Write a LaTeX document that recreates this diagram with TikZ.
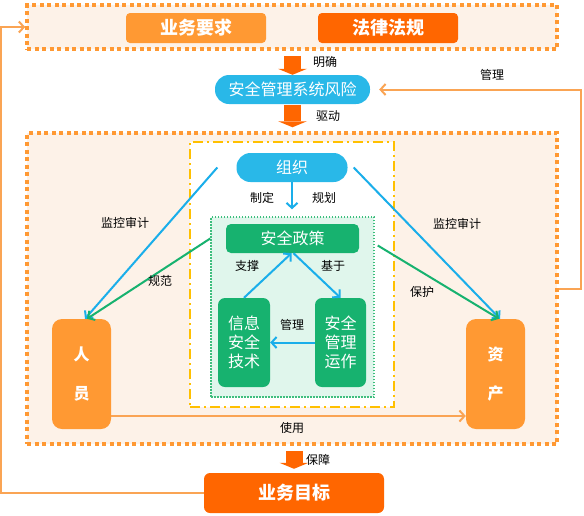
\documentclass[tikz,border=0pt]{standalone}
\usepackage{fontspec}
\setmainfont{Noto Sans CJK SC}
\usetikzlibrary{arrows.meta}

\definecolor{lightorange}{HTML}{FF9933}
\definecolor{darkorange}{HTML}{FF6600}
\definecolor{peach}{HTML}{FDF2E8}
\definecolor{skyblue}{HTML}{29B8E8}
\definecolor{lineblue}{HTML}{1AAEEA}
\definecolor{leafgreen}{HTML}{17B26F}
\definecolor{mintgreen}{HTML}{E0F6EC}
\definecolor{dotgreen}{HTML}{3DBE7D}
\definecolor{goldyellow}{HTML}{FFC000}
\definecolor{feedorange}{HTML}{FAA454}

\begin{document}
\begin{tikzpicture}[x=1pt,y=-1pt,
    group/.style={draw=lightorange,fill=peach,line width=3.5pt,dash pattern=on 4pt off 3.5pt,minimum width=530pt,inner sep=0pt},
    topbox/.style={rounded corners=4pt,text=white,minimum width=140pt,minimum height=30pt,inner sep=0pt,font=\fontsize{18}{22}\selectfont\bfseries},
    pill/.style={fill=skyblue,text=white,rounded corners=14pt,minimum height=29pt,inner sep=0pt,font=\fontsize{16}{20}\selectfont},
    greenbox/.style={fill=leafgreen,text=white,rounded corners=7pt,inner sep=0pt,align=center,font=\fontsize{16}{19}\selectfont},
    sidebox/.style={fill=lightorange,text=white,rounded corners=10pt,minimum width=59pt,minimum height=110pt,inner sep=0pt,align=center,font=\fontsize{16}{20}\selectfont\bfseries},
    bigarrow/.style={draw=darkorange,line width=17pt,-{Triangle[width=29pt,length=6pt,line width=0pt]}},
    flow/.style={draw=lineblue,line width=2pt,-{Straight Barb[length=5pt,width=11pt]}},
    rule/.style={draw=leafgreen,line width=2pt,-{Straight Barb[length=5pt,width=11pt]}},
    feedback/.style={draw=feedorange,line width=2pt,-{Straight Barb[length=5pt,width=11pt]}},
    lbl/.style={inner sep=0pt,font=\fontsize{12}{14}\selectfont}]
  \useasboundingbox (0,0) rectangle (584,515);

  % outer groups
  \node[group,minimum height=44pt] (reqgroup) at (292,27) {};
  \node[group,minimum height=311pt] (midgroup) at (292,288.5) {};
  \node[draw=goldyellow,fill=white,line width=2.5pt,dash pattern=on 10pt off 4pt on 2pt off 4pt,minimum width=204pt,minimum height=265pt] (frame) at (292,274.5) {};
  \node[draw=dotgreen,fill=mintgreen,line width=1.5pt,dash pattern=on 1.5pt off 1.5pt,minimum width=163pt,minimum height=180pt] (zone) at (292.5,307) {};

  \node[topbox,fill=lightorange] (business) at (196,28) {业务要求};
  \node[topbox,fill=darkorange] (law) at (388,28) {法律法规};
  \node[pill,minimum width=155pt] (risk) at (292.5,89.5) {安全管理系统风险};
  \node[pill,minimum width=111pt] (org) at (292,167.5) {组织};
  \node[greenbox,minimum width=133pt,minimum height=29pt,rounded corners=5pt] (policy) at (292.5,238.5) {安全政策};
  \node[greenbox,minimum width=52pt,minimum height=89pt] (tech) at (244,342.5) {信息\\安全\\技术};
  \node[greenbox,minimum width=51pt,minimum height=89pt] (ops) at (340.5,342.5) {安全\\管理\\运作};
  \node[sidebox] (people) at (81.5,374) {人\\[19pt]员};
  \node[sidebox] (assets) at (495.5,374) {资\\[19pt]产};
  \node[topbox,fill=darkorange,minimum width=180pt,minimum height=40pt,rounded corners=6pt] (goal) at (294,493) {业务目标};

  % block arrows
  \draw[bigarrow,shorten <=5pt] (reqgroup.south -| risk) -- (risk.north);
  \draw[bigarrow,shorten <=1pt,shorten >=4pt] (risk.south) -- (risk.south |- midgroup.north);
  \draw[bigarrow,shorten <=5pt,shorten >=4pt] (midgroup.south -| goal) -- (goal.north);

  % inner connectors
  \draw[flow,shorten >=7pt] (org.south) -- (org.south |- zone.north);
  \draw[flow] (tech.north) -- ([xshift=-1pt]policy.south);
  \draw[flow] ([xshift=1pt]policy.south) -- (ops.north);
  \draw[flow] (ops.west) -- (tech.east);
  \draw[flow] ([xshift=-19pt]org.west) -- ([xshift=3.5pt]people.north);
  \draw[flow] ([xshift=6pt]org.east) -- ([xshift=4.5pt]assets.north);
  \draw[rule] (zone.west |- policy) -- ([xshift=5.5pt]people.north);
  \draw[rule] ([xshift=3pt,yshift=-7pt]zone.east |- policy) -- ([xshift=3.5pt]assets.north);
  \draw[feedback] ([yshift=-42pt]people.east) -- ([yshift=-42pt]assets.west);

  % feedback loops
  \draw[feedback,shorten >=9pt] (midgroup.east) -- ++(22,0) |- (risk.east);
  \draw[feedback] (goal.west) -| ([xshift=-24pt]reqgroup.west) -- (reqgroup.west);

  % labels
  \node[lbl] (lblclear) at (325,62) {明确};
  \node[lbl] (lbldrive) at (328,116) {驱动};
  \node[lbl] (lblguard) at (318,460) {保障};
  \node[lbl] (lblmanage) at (492,75) {管理};
  \node[lbl] (lblmake) at (262,198) {制定};
  \node[lbl] (lblplan) at (324,198) {规划};
  \node[lbl] (lblsupport) at (247,266) {支撑};
  \node[lbl] (lblbase) at (333,266) {基于};
  \node[lbl] (lblrun) at (292,325) {管理};
  \node[lbl] (lbluse) at (292,428) {使用};
  \node[lbl] (lblauditL) at (125,223) {监控审计};
  \node[lbl] (lblnorm) at (160,281) {规范};
  \node[lbl] (lblauditR) at (457,224) {监控审计};
  \node[lbl] (lblprotect) at (422,292) {保护};
\end{tikzpicture}
\end{document}
